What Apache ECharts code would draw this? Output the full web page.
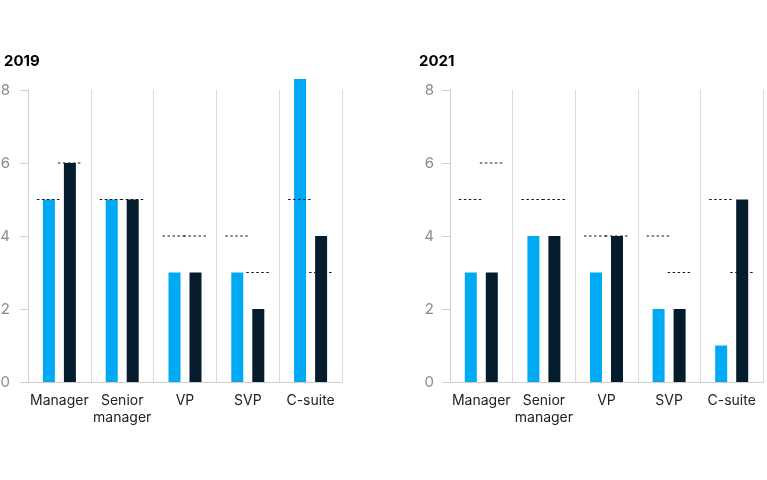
<!DOCTYPE html>
<html>
<head>
<meta charset="utf-8">
<script src="https://cdn.jsdelivr.net/npm/echarts@6/dist/echarts.min.js"></script>
<style>
  html, body { margin: 0; padding: 0; background: #fff; }
  #chart { width: 767px; height: 480px; }
</style>
</head>
<body>
<div id="chart"></div>
<script>
const categories = ["Manager", "Senior\nmanager", "VP", "SVP", "C-suite"];
const yTicks = [0, 2, 4, 6, 8];

// 2019 panel
const light2019 = [5, 5, 3, 3, 8.3];
const dark2019 = [6, 5, 3, 2, 4];
const lightBench2019 = [5, 5, 4, 4, 5];
const darkBench2019 = [6, 5, 4, 3, 3];

// 2021 panel
const light2021 = [3, 4, 3, 2, 1];
const dark2021 = [3, 4, 4, 2, 5];
const lightBench2021 = [5, 5, 4, 4, 5];
const darkBench2021 = [6, 5, 4, 3, 3];

const LIGHT = "#00a9f4";
const DARK = "#051c2c";
const BAR_W = 12;
const BAR_GAP = 9;
const BENCH_W = 24;
const FONT = "Inter, 'Liberation Sans', sans-serif";

// one dashed benchmark per bar: [category index, value, side (-1 light / +1 dark)]
const benchData = (light, dark) => [
    ...light.map((v, i) => [i, v, -1]),
    ...dark.map((v, i) => [i, v, 1])
];

const renderBench = (params, api) => {
    const p = api.coord([api.value(0), api.value(1)]);
    const cx = p[0] + api.value(2) * (BAR_W + BAR_GAP) / 2;
    return {
        type: "line",
        shape: { x1: cx - BENCH_W / 2, y1: p[1], x2: cx + BENCH_W / 2, y2: p[1] },
        style: { stroke: DARK, lineWidth: 1.2, lineDash: [2.5, 2.5] }
    };
};

const xAxisFor = (gridIndex) => ({
    type: "category",
    gridIndex,
    data: categories,
    axisLine: { lineStyle: { color: "#cfcfcf", width: 1 } },
    axisTick: { show: false },
    splitLine: { show: true, interval: 0, lineStyle: { color: "#dadada", width: 1 } },
    axisLabel: { interval: 0, color: "#222", fontSize: 14, lineHeight: 17, margin: 10, fontFamily: FONT }
});

const yAxisFor = (gridIndex, margin) => ({
    type: "value",
    gridIndex,
    min: yTicks[0],
    max: yTicks[yTicks.length - 1],
    interval: 2,
    axisLine: { show: true, lineStyle: { color: "#cfcfcf", width: 1 } },
    axisTick: { show: true, length: 8, lineStyle: { color: "#cfcfcf" } },
    splitLine: { show: false },
    axisLabel: { color: "#8a8a8a", fontSize: 15, margin, fontFamily: FONT }
});

const barsFor = (axisIndex, light, dark) => [
    {
        type: "bar", xAxisIndex: axisIndex, yAxisIndex: axisIndex,
        data: light, barWidth: BAR_W, barGap: (BAR_GAP / BAR_W * 100) + "%",
        itemStyle: { color: LIGHT }, clip: false, silent: true
    },
    {
        type: "bar", xAxisIndex: axisIndex, yAxisIndex: axisIndex,
        data: dark, barWidth: BAR_W,
        itemStyle: { color: DARK }, clip: false, silent: true
    }
];

const chart = echarts.init(document.getElementById("chart"));
chart.setOption({
    animation: false,
    title: [
        { text: "2019", left: 4, top: 54, padding: 0, textStyle: { fontSize: 15, fontWeight: "bold", color: "#000", fontFamily: FONT } },
        { text: "2021", left: 419, top: 54, padding: 0, textStyle: { fontSize: 15, fontWeight: "bold", color: "#000", fontFamily: FONT } }
    ],
    grid: [
        { left: 28, width: 314, top: 90, bottom: 98, outerBoundsMode: "none", containLabel: false },
        { left: 450, right: 4, top: 90, bottom: 98, outerBoundsMode: "none", containLabel: false }
    ],
    xAxis: [xAxisFor(0), xAxisFor(1)],
    yAxis: [yAxisFor(0, 18), yAxisFor(1, 16)],
    series: [
        ...barsFor(0, light2019, dark2019),
        ...barsFor(1, light2021, dark2021),
        {
            type: "custom", xAxisIndex: 0, yAxisIndex: 0, renderItem: renderBench,
            data: benchData(lightBench2019, darkBench2019), encode: { x: 0, y: 1 }, z: 5, silent: true
        },
        {
            type: "custom", xAxisIndex: 1, yAxisIndex: 1, renderItem: renderBench,
            data: benchData(lightBench2021, darkBench2021), encode: { x: 0, y: 1 }, z: 5, silent: true
        }
    ]
});
</script>
</body>
</html>
